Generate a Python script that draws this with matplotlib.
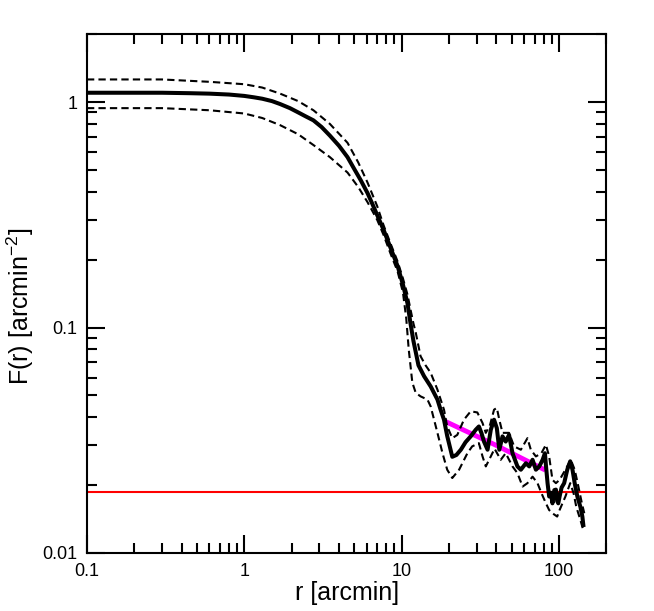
import matplotlib
matplotlib.use("Agg")
import matplotlib.pyplot as plt
from matplotlib.ticker import LogLocator, FormatStrFormatter, NullFormatter

plt.rcParams['font.family'] = ['Liberation Sans', 'DejaVu Sans']
plt.rcParams['mathtext.fontset'] = 'custom'
plt.rcParams['mathtext.rm'] = 'Liberation Sans'
plt.rcParams['mathtext.default'] = 'regular'

# radial profile (solid)
r_prof = [0.1, 0.2, 0.3, 0.45, 0.6, 0.8, 1.0, 1.15, 1.3, 1.5,
          1.69, 1.95, 2.2, 2.45, 2.75, 3.1, 3.5, 4.0, 4.53, 5.0,
          5.5, 6.07, 6.5, 7.0, 7.67, 8.5, 9.44, 10.2, 10.9, 11.4,
          11.9, 12.8, 13.9, 15.3, 16.9, 17.7, 18.6, 19.5, 20.0, 21.0,
          22.3, 23.8, 25.5, 27.5, 29.6, 31.0, 32.2, 33.4, 35.2, 36.9,
          38.7, 40.3, 41.8, 43.8, 45.9, 48.2, 50.7, 54.5, 57.3, 61.7,
          64.8, 68.0, 71.4, 75.0, 78.8, 81.5, 82.7, 84.7, 86.7, 88.9,
          91.0, 93.5, 95.7, 97.5, 99.1, 101, 104, 108, 113, 118,
          122, 126, 131, 137, 141, 143]
F_prof = [1.10, 1.10, 1.10, 1.095, 1.09, 1.08, 1.065, 1.05, 1.035, 1.01,
          0.98, 0.94, 0.90, 0.865, 0.83, 0.775, 0.71, 0.64, 0.57, 0.505,
          0.45, 0.395, 0.355, 0.315, 0.272, 0.226, 0.187, 0.155, 0.128, 0.104,
          0.087, 0.068, 0.0608, 0.0548, 0.0479, 0.0432, 0.039, 0.033, 0.0307, 0.0267,
          0.0272, 0.0287, 0.031, 0.0329, 0.0352, 0.0364, 0.034, 0.0312, 0.0287, 0.0352,
          0.039, 0.0358, 0.0287, 0.0329, 0.0312, 0.0334, 0.0277, 0.0242, 0.0234, 0.025,
          0.0242, 0.0259, 0.0234, 0.0242, 0.0259, 0.0277, 0.0245, 0.0204, 0.0178, 0.0185,
          0.0166, 0.0190, 0.0191, 0.0170, 0.0166, 0.0178, 0.0195, 0.0204, 0.0234, 0.0255,
          0.0234, 0.0204, 0.0178, 0.0160, 0.0145, 0.0133]

# upper error curve
r_up = [0.1, 0.3, 0.6, 1.0, 1.3, 1.69, 2.2, 2.75, 3.5, 4.53,
        5.3, 6.07, 7.0, 7.67, 8.5, 9.44, 10.2, 10.9, 11.4, 11.9,
        12.3, 13.2, 14.2, 15.3, 16.9, 18.6, 19.5, 21.0, 22.6, 24.9,
        27.5, 30.3, 32.7, 34.3, 36.5, 38.7, 40.3, 41.8, 43.8, 48.2,
        51.9, 57.3, 63.1, 66.3, 71.4, 77.4, 82.7, 86.7, 91, 95.7,
        101, 110, 119, 126, 133, 140, 145]
F_up = [1.26, 1.26, 1.23, 1.20, 1.16, 1.09, 1.01, 0.92, 0.80, 0.66,
        0.54, 0.44, 0.345, 0.285, 0.236, 0.196, 0.165, 0.140, 0.120, 0.104,
        0.095, 0.0746, 0.068, 0.063, 0.053, 0.0432, 0.0364, 0.0323, 0.0334, 0.039,
        0.0425, 0.042, 0.0377, 0.0341, 0.037, 0.0432, 0.044, 0.039, 0.0341, 0.0341,
        0.0297, 0.0287, 0.0323, 0.0287, 0.0268, 0.0277, 0.0302, 0.0268, 0.0211, 0.0204,
        0.0211, 0.0234, 0.0259, 0.0234, 0.0197, 0.0166, 0.0150]

# lower error curve
r_lo = [0.1, 0.3, 0.6, 1.0, 1.3, 1.69, 2.2, 2.75, 3.5, 4.53,
        5.3, 6.07, 7.0, 7.67, 8.5, 9.44, 10.2, 10.7, 11.1, 11.7,
        12.3, 13.2, 14.6, 15.3, 16.9, 18.2, 19.5, 21.0, 23.2, 26.2,
        28.1, 31.0, 32.7, 34.3, 36.9, 39.0, 42.7, 45.9, 50.7, 54.5,
        58.8, 63.1, 68.0, 73.1, 77.5, 82.7, 86.7, 91, 97.5, 101,
        110, 118, 124, 129, 137, 143]
F_lo = [0.94, 0.94, 0.92, 0.89, 0.85, 0.79, 0.72, 0.645, 0.57, 0.487,
        0.42, 0.36, 0.30, 0.258, 0.213, 0.177, 0.143, 0.110, 0.080, 0.057,
        0.0513, 0.0495, 0.0479, 0.0447, 0.0341, 0.0277, 0.0234, 0.0215, 0.0234, 0.0277,
        0.0297, 0.0307, 0.0268, 0.0242, 0.0268, 0.029, 0.0259, 0.0277, 0.0242, 0.0226,
        0.0197, 0.0204, 0.0218, 0.0204, 0.0184, 0.0166, 0.0155, 0.0150, 0.0145, 0.0155,
        0.0178, 0.0204, 0.0184, 0.0160, 0.0140, 0.0126]

# power-law fit to the outer part
r_fit = [19.0, 40.0, 82.0]
F_fit = [0.0383, 0.0300, 0.0233]

background = 0.0187

fig = plt.figure(figsize=(6.54, 6.11), dpi=100)
ax = fig.add_axes([0.133, 0.095, 0.794, 0.849])

ax.axhline(background, color='#ff0000', lw=1.5, zorder=1)
ax.plot(r_fit, F_fit, color='#ff00ff', lw=3.5, solid_capstyle='butt', zorder=2)
ax.plot(r_up, F_up, color='black', lw=1.5, dashes=(3.5, 2.0), zorder=3)
ax.plot(r_lo, F_lo, color='black', lw=1.5, dashes=(3.5, 2.0), zorder=3)
ax.plot(r_prof, F_prof, color='black', lw=2.9, zorder=4)

ax.set_xscale('log')
ax.set_yscale('log')
ax.set_xlim(0.1, 200)
ax.set_ylim(0.01, 2)

for axis in (ax.xaxis, ax.yaxis):
    axis.set_major_locator(LogLocator(base=10))
    axis.set_minor_locator(LogLocator(base=10, subs=range(2, 10)))
    axis.set_major_formatter(FormatStrFormatter('%g'))
    axis.set_minor_formatter(NullFormatter())

ax.tick_params(which='both', direction='in', top=True, right=True, width=1.5, labelsize=13, pad=7)
ax.tick_params(which='major', length=13)
ax.tick_params(which='minor', length=7)
for s in ax.spines.values():
    s.set_linewidth(1.5)

ax.set_xlabel('r [arcmin]', fontsize=18, labelpad=1)
ax.set_ylabel('F(r) [arcmin$^{-2}$]', fontsize=18)
ax.yaxis.set_label_coords(-0.098, 0.476)

fig.savefig('out.png', dpi=100)
